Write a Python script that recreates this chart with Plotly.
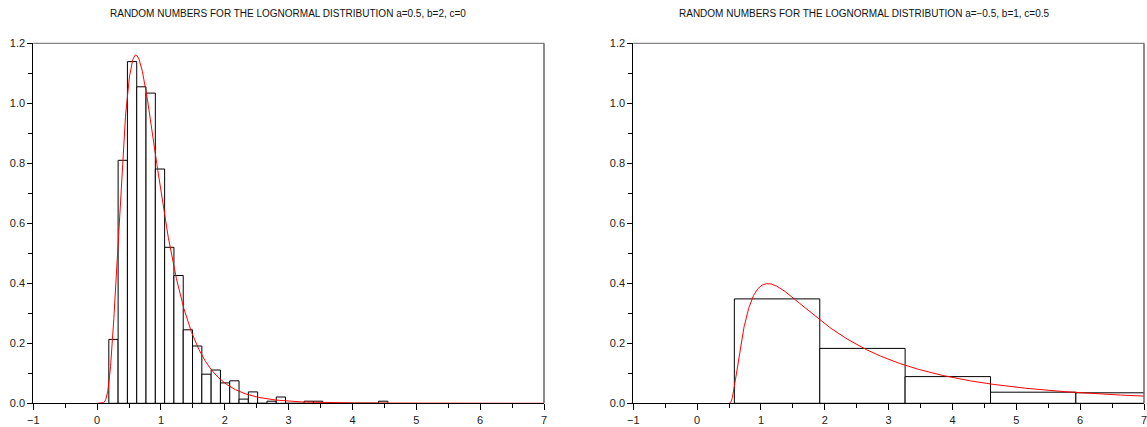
import numpy as np
import plotly.graph_objects as go

# ---- data ----
# left histogram: 30 classes between data min and max
left_bin_lo = 0.183
left_bin_hi = 4.554
left_density = [0.213, 0.810, 1.139, 1.055, 1.034, 0.781, 0.520, 0.426, 0.245, 0.191,
                0.097, 0.111, 0.068, 0.075, 0.014, 0.038, 0.0, 0.007, 0.021, 0.0,
                0.0, 0.007, 0.007, 0.0, 0.0, 0.0, 0.0, 0.0, 0.0, 0.007]
# right histogram: visible classes (further classes lie beyond x=7)
right_edges = [0.583, 1.921, 3.258, 4.596, 5.933, 7.271]
right_density = [0.348, 0.183, 0.089, 0.037, 0.035]

# lognormal parameters (Johnson SL form: a + b*ln(x-c) ~ N(0,1))
params_a = [0.5, -0.5]
params_b = [2.0, 1.0]
params_c = [0.0, 0.5]
titles = ["RANDOM NUMBERS FOR THE LOGNORMAL DISTRIBUTION a=0.5, b=2, c=0",
          "RANDOM NUMBERS FOR THE LOGNORMAL DISTRIBUTION a=\u22120.5, b=1, c=0.5"]
x_range = [-1, 7]
y_range = [0, 1.2]

W, H = 1147, 427
FONT = "Liberation Sans, Arial, sans-serif"

left_edges = np.linspace(left_bin_lo, left_bin_hi, len(left_density) + 1)


def pdf(x, a, b, c):
    z = x - c
    out = np.zeros_like(x)
    m = z > 0
    out[m] = b / (z[m] * np.sqrt(2 * np.pi)) * np.exp(-0.5 * (a + b * np.log(z[m])) ** 2)
    return out


fig = go.Figure()

hists = [(left_edges, left_density), (np.array(right_edges), right_density)]
for i, (edges, dens) in enumerate(hists):
    xa = "x" if i == 0 else "x2"
    ya = "y" if i == 0 else "y2"
    centers = (edges[:-1] + edges[1:]) / 2
    widths = edges[1:] - edges[:-1]
    fig.add_trace(go.Bar(x=centers, y=dens, width=widths,
                         marker=dict(color="white", line=dict(color="black", width=1)),
                         xaxis=xa, yaxis=ya, showlegend=False, hoverinfo="skip"))
    xs = np.linspace(params_c[i] + 1e-4, x_range[1], 1500)
    fig.add_trace(go.Scatter(x=xs, y=pdf(xs, params_a[i], params_b[i], params_c[i]),
                             mode="lines", line=dict(color="red", width=1),
                             xaxis=xa, yaxis=ya, showlegend=False, hoverinfo="skip"))

doms_x = [[33.3 / W, 544 / W], [633.3 / W, 1144.0 / W]]
dom_y = [1 - 403.3 / H, 1 - 43.3 / H]
title_x = [288 / W, 864 / W]

axis_common = dict(showgrid=False, zeroline=False, showline=True, linecolor="black",
                   linewidth=1, ticks="outside", tickcolor="black", automargin=False,
                   ticklabeloverflow="allow",
                   tickfont=dict(family=FONT, size=11, color="#222"))

layout = dict(template="none", width=W, height=H,
              margin=dict(l=0, r=0, t=0, b=0, pad=0, autoexpand=False),
              plot_bgcolor="white", paper_bgcolor="white", barmode="overlay",
              showlegend=False)
for i in range(2):
    sx = "" if i == 0 else "2"
    layout["xaxis" + sx] = dict(axis_common, domain=doms_x[i], range=x_range, dtick=1,
                                ticklen=6, tickwidth=1,
                                minor=dict(dtick=0.5, ticklen=4, ticks="outside",
                                           tickcolor="black", showgrid=False),
                                anchor="y" + sx)
    layout["yaxis" + sx] = dict(axis_common, domain=dom_y, range=y_range, dtick=0.2,
                                tickformat=".1f", ticklen=5, tickwidth=1,
                                minor=dict(dtick=0.1, ticklen=4, ticks="outside",
                                           tickcolor="black", showgrid=False),
                                anchor="x" + sx)
fig.update_layout(**layout)

for i in range(2):
    sx = "" if i == 0 else "2"
    # top and right frame lines in grey
    fig.add_shape(type="line", xref="x" + sx + " domain", yref="y" + sx + " domain",
                  x0=0, x1=1, y0=1, y1=1, line=dict(color="#666", width=1))
    fig.add_shape(type="line", xref="x" + sx + " domain", yref="y" + sx + " domain",
                  x0=1, x1=1, y0=0, y1=1, line=dict(color="#666", width=1.5))
    fig.add_annotation(text=titles[i], xref="paper", yref="paper",
                       x=title_x[i], y=1 - 13 / H,
                       xanchor="center", yanchor="middle", showarrow=False,
                       font=dict(family=FONT, size=10, color="#111"))

page_js = ("document.documentElement.style.margin='0';"
           "document.body.style.margin='0';"
           "document.documentElement.style.overflow='hidden';"
           "document.body.style.overflow='hidden';")
fig.write_html("out.html", post_script=page_js,
               config={"displayModeBar": False, "staticPlot": True})
